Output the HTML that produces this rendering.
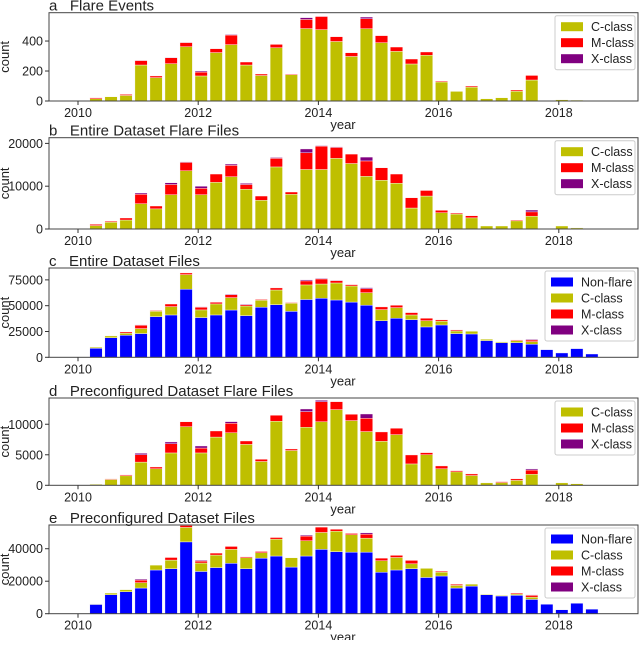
<!DOCTYPE html>
<html><head><meta charset="utf-8"><style>
body{margin:0;background:#fff;width:640px;height:640px;overflow:hidden}
svg{font-family:"Liberation Sans","DejaVu Sans",sans-serif}
</style></head><body>
<svg id="chart" width="640" height="640" viewBox="0 0 640 640" xmlns="http://www.w3.org/2000/svg"></svg>
<script>
// ---- data: quarterly bars, index i -> year 2010.3 + 0.25*i ----
const xTicks = [2010, 2012, 2014, 2016, 2018];
// panel a: Flare Events
const aC = [15,28,37,240,156,249,362,167,323,376,240,170,355,175,483,476,397,297,482,389,331,247,305,127,64,93,15,22,65,140,0,8,6,0];
const aM = [7,0,7,30,11,40,28,26,26,64,20,10,23,5,61,88,32,25,67,47,29,33,22,6,0,7,0,0,8,31,0,0,0,0];
const aX = [0,0,0,3,0,3,3,7,0,4,0,0,2,0,12,3,0,0,11,0,0,0,0,0,0,0,0,0,0,2,0,0,0,0];
const aTicks = [0,200,400];
// panel b: Entire Dataset Flare Files
const bC = [800,1600,2100,5900,4700,8000,13600,8000,10900,12200,9300,6700,14500,8100,13900,13900,16500,15300,12300,11400,10700,4900,7700,3800,3500,2600,700,700,1900,3000,0,700,250,0];
const bM = [290,200,470,2200,670,2400,1960,1500,1940,2660,1100,1000,2000,540,3900,5470,2560,2200,3600,2900,2140,2400,1300,560,230,500,0,0,200,1000,0,0,0,0];
const bX = [0,0,0,300,0,400,140,500,0,310,260,0,200,0,900,130,140,0,900,0,0,0,0,0,0,0,0,0,0,430,0,0,0,0];
const bTicks = [0,10000,20000];
// panel c: Entire Dataset Files
const cN = [8700,19000,21300,23000,39400,41000,66000,38500,41000,45800,40400,48500,51000,44500,56000,57200,55500,53500,50500,35400,37800,36500,29400,31300,23000,22600,16200,14200,14200,12600,7400,4200,8400,3200];
const cC = [1000,1700,2000,4800,5200,8100,14100,7400,10700,12000,9300,6700,14200,7800,14100,13800,16500,15600,12100,10800,10300,4500,6100,3600,2500,2600,1300,800,1900,2600,0,0,0,0];
const cM = [0,0,1200,3200,700,2600,1600,2600,1600,2900,1300,800,2000,700,3900,4900,2300,1300,3900,2600,2300,2300,2300,1300,1000,0,0,0,700,1600,0,0,0,0];
const cX = [0,0,0,500,0,300,0,500,0,600,600,0,0,0,1000,600,500,0,1000,0,0,0,0,0,0,0,0,0,0,700,0,0,0,0];
const cTicks = [0,25000,50000,75000];
// panel d: Preconfigured Dataset Flare Files
const dC = [150,950,1550,3800,2700,5300,9600,5300,7900,8600,6700,3900,10500,5700,9500,10400,12400,10600,8800,7200,8300,3500,5000,2700,2200,1600,400,450,800,1800,50,400,250,0];
const dM = [0,100,150,1200,300,1500,800,800,1000,1550,560,360,970,250,2570,3300,1300,1030,2170,1540,1040,1470,350,470,200,260,0,150,250,700,0,0,0,0];
const dX = [0,0,0,240,0,300,0,340,0,280,0,0,0,0,430,220,0,0,710,0,0,0,0,0,0,0,0,0,0,180,0,0,0,0];
const dTicks = [0,5000,10000];
// panel e: Preconfigured Dataset Files
const eN = [5700,11700,13500,15800,26900,27700,44200,26000,28400,31000,27700,34200,35500,28700,35500,39600,38200,37900,37900,25500,26900,27700,22300,23200,15800,17000,11700,10900,11300,8800,5800,2400,6400,2800];
const eC = [300,1000,1300,3300,3000,5300,8900,5200,7700,8600,6700,3300,10400,5700,9400,10400,12600,10700,8600,7100,7700,3000,5600,2400,1600,1200,400,400,800,1400,0,0,0,0];
const eM = [0,0,0,1600,0,1600,1200,1200,1200,1800,600,800,1000,0,2900,3300,1200,800,2500,1600,1300,2100,0,600,700,0,0,0,600,1100,0,0,0,0];
const eX = [0,0,0,600,0,0,0,500,0,0,0,0,0,0,600,0,0,0,800,0,0,0,0,0,0,0,0,0,0,300,0,0,0,0];
const eTicks = [0,20000,40000];

const COL = {N:'#0000ff', C:'#bfbf00', M:'#ff0000', X:'#800080'};
const NS = 'http://www.w3.org/2000/svg';
const svg = document.getElementById('chart');
const X0 = 49, X1 = 638;
function xs(year){ return 78 + (year - 2010) * 60.1; }
function mk(tag, attrs, parent){
  const e = document.createElementNS(NS, tag);
  for (const k in attrs) e.setAttribute(k, attrs[k]);
  (parent || svg).appendChild(e);
  return e;
}

function panel(key, title, top, zero, ymax, ticks, series, legendNames){
  const g = mk('g', {});
  
  
  const ys = v => zero - v / ymax * (zero - top);
  const n = series[0].vals.length;
  for (let i = 0; i < n; i++){
    const yr = 2010.3 + 0.25 * i;
    let base = 0;
    series.forEach(s => {
      const v = s.vals[i];
      if (v > 0){
        const r = mk('rect', {x: xs(yr) - 6.2, y: ys(base + v), width: 12.4, height: ys(base) - ys(base + v), fill: COL[s.k], stroke: '#fff', 'stroke-width': 0.4}, g);
        
        
      }
      base += v;
    });
  }
  const fr = mk('rect', {x: X0, y: top, width: X1 - X0, height: zero - top, fill: 'none', stroke: '#444', 'stroke-width': 1}, g);
  
  
  ticks.forEach(t => {
    mk('line', {x1: X0 - 4, x2: X0, y1: ys(t), y2: ys(t), stroke: '#333'}, g);
    const tx = mk('text', {x: X0 - 6, y: ys(t) + 4.5, 'text-anchor': 'end', 'font-size': 12.5, fill: '#222'}, g);
    tx.textContent = t;
    
    
  });
  xTicks.forEach(t => {
    mk('line', {x1: xs(t), x2: xs(t), y1: zero, y2: zero + 4, stroke: '#333'}, g);
    const tx = mk('text', {x: xs(t), y: zero + 16, 'text-anchor': 'middle', 'font-size': 12.5, fill: '#222'}, g);
    tx.textContent = t;
    
    
  });
  const xl = mk('text', {x: 343, y: zero + 28, 'text-anchor': 'middle', 'font-size': 13, fill: '#222'}, g);
  xl.textContent = 'year';
  
  
  const yl = mk('text', {x: 0, y: 0, 'text-anchor': 'middle', 'font-size': 13, fill: '#222', transform: 'translate(9,' + ((top + zero) / 2) + ') rotate(-90)'}, g);
  yl.textContent = 'count';
  
  
  const tt = mk('text', {x: 49, y: top - 2, 'font-size': 15, fill: '#222'}, g);
  tt.textContent = key + '   ' + title;
  tt.setAttribute('xml:space', 'preserve');
  tt.style.whiteSpace = 'pre';
  
  
  const rows = legendNames.length;
  const lw = rows === 4 ? 90 : 80;
  const lx = X1 - 3 - lw, ly = top + 3;
  const lg = mk('g', {}, g);
  
  
  mk('rect', {x: lx, y: ly, width: lw, height: rows * 16 + 6, fill: '#fff', stroke: '#ccc', rx: 2}, lg);
  legendNames.forEach((nm, j) => {
    const cy = ly + 11 + j * 16;
    const sw = mk('rect', {x: lx + 6, y: cy - 4.5, width: 22, height: 9, fill: COL[nm[0]]}, lg);
    
    
    const t = mk('text', {x: lx + 36, y: cy + 4.5, 'font-size': 12.5, fill: '#222'}, lg);
    t.textContent = nm[1];
    
    
  });
}
const L3 = [['C','C-class'],['M','M-class'],['X','X-class']];
const L4 = [['N','Non-flare'],['C','C-class'],['M','M-class'],['X','X-class']];
panel('a', 'Flare Events', 12.7, 101, 589, aTicks, [{k:'C',vals:aC},{k:'M',vals:aM},{k:'X',vals:aX}], L3);
panel('b', 'Entire Dataset Flare Files', 137.7, 229, 21330, bTicks, [{k:'C',vals:bC},{k:'M',vals:bM},{k:'X',vals:bX}], L3);
panel('c', 'Entire Dataset Files', 268, 357.3, 86500, cTicks, [{k:'N',vals:cN},{k:'C',vals:cC},{k:'M',vals:cM},{k:'X',vals:cX}], L4);
panel('d', 'Preconfigured Dataset Flare Files', 398, 485.3, 14300, dTicks, [{k:'C',vals:dC},{k:'M',vals:dM},{k:'X',vals:dX}], L3);
panel('e', 'Preconfigured Dataset Files', 525, 613.7, 54600, eTicks, [{k:'N',vals:eN},{k:'C',vals:eC},{k:'M',vals:eM},{k:'X',vals:eX}], L4);
</script>
</body></html>
